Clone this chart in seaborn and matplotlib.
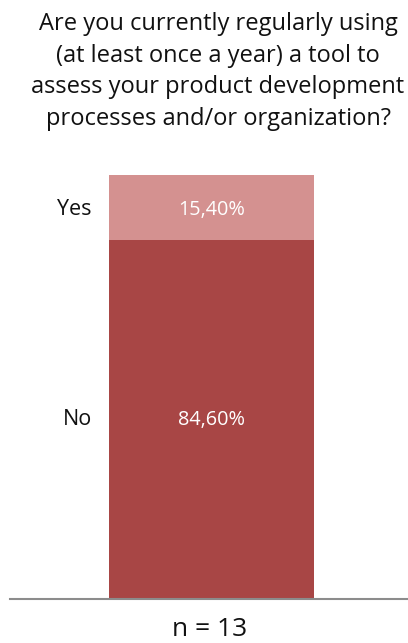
import matplotlib
matplotlib.use("Agg")
import matplotlib.pyplot as plt
import seaborn as sns
import pandas as pd

# Survey answers (share of respondents, %)
answers = ["No", "Yes"]
shares = [84.6, 15.4]
value_labels = ["84,60%", "15,40%"]
colors = {"No": "#A84645", "Yes": "#D49190"}
question = ("Are you currently regularly using\n(at least once a year) a tool to\n"
            "assess your product development\nprocesses and/or organization?")
sample_note = "n = 13"

sns.set_theme(style="white")
plt.rcParams["font.family"] = ["Open Sans", "DejaVu Sans"]

fig = plt.figure(figsize=(4.08, 6.43), dpi=100)
ax = fig.add_axes([10 / 408, 44 / 643, 398 / 408, 424 / 643])

# stacked single bar: cumulative top drawn first, then the lower segment
df = pd.DataFrame({"group": ["all"], "no": [shares[0]], "total": [shares[0] + shares[1]]})
sns.barplot(data=df, x="group", y="total", color=colors["Yes"], width=0.515,
            saturation=1, linewidth=0, ax=ax)
sns.barplot(data=df, x="group", y="no", color=colors["No"], width=0.515,
            saturation=1, linewidth=0, ax=ax)

ax.set_xlim(-0.506, 0.494)
ax.set_ylim(0, 100)
ax.set_xlabel("")
ax.set_ylabel("")
ax.set_xticks([])
ax.set_yticks([])
for side in ["top", "right", "left"]:
    ax.spines[side].set_visible(False)
ax.spines["bottom"].set_color("#8c8c8c")
ax.spines["bottom"].set_linewidth(1.5)

bottoms = [0, shares[0]]
for name, share, lab, b in zip(answers, shares, value_labels, bottoms):
    mid = b + share / 2 + (0 if name == "No" else -0.5)
    ax.text(0, mid, lab, ha="center", va="center", color="white", fontsize=14.3)
    ax.text(-0.30, mid, name, ha="right", va="center", color="#111111", fontsize=15.5)

fig.text(218 / 408, 1 - 12 / 643, question, ha="center", va="top", fontsize=17,
         linespacing=1.42, color="#111111")
fig.text(210 / 408, 1 - 630 / 643, sample_note, ha="center", va="center",
         fontsize=19, color="#111111")

fig.savefig("out.png", dpi=100)
